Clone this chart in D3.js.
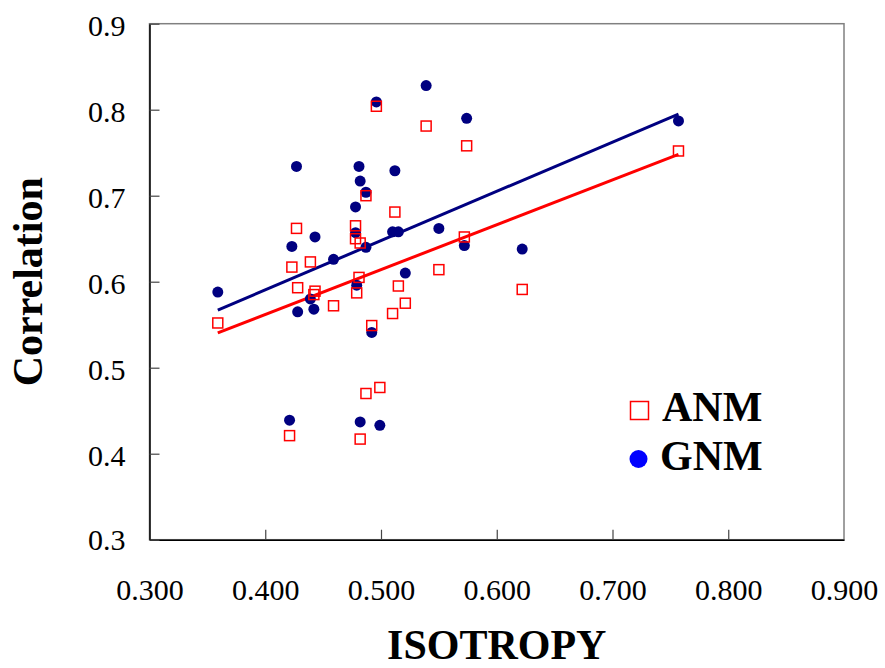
<!DOCTYPE html>
<html>
<head>
<meta charset="utf-8">
<script src="https://cdn.jsdelivr.net/npm/d3@7"></script>
<style>
  body { margin: 0; background: #fff; }
  svg text { font-family: "Liberation Serif", "Times New Roman", serif; }
</style>
</head>
<body>
<div id="chart"></div>
<script>
// Isotropy for each protein, with the ANM and GNM correlations
const isotropy = [0.359, 0.421, 0.423, 0.427, 0.428, 0.439, 0.443, 0.442, 0.459,
    0.481, 0.482, 0.478, 0.478, 0.479, 0.482, 0.487, 0.487, 0.492, 0.496, 0.499,
    0.510, 0.515, 0.512, 0.521, 0.539, 0.550, 0.572, 0.574, 0.622, 0.757];
const gnm = [0.588, 0.439, 0.641, 0.734, 0.565, 0.580, 0.652, 0.568, 0.626,
    0.734, 0.717, 0.687, 0.657, 0.596, 0.437, 0.704, 0.640, 0.541, 0.809, 0.433,
    0.658, 0.658, 0.729, 0.610, 0.828, 0.662, 0.642, 0.790, 0.638, 0.787];
const anm = [0.552, 0.421, 0.617, 0.662, 0.593, 0.623, 0.589, 0.585, 0.572,
    0.605, 0.645, 0.665, 0.650, 0.587, 0.417, 0.700, 0.470, 0.549, 0.804, 0.477,
    0.563, 0.595, 0.681, 0.575, 0.781, 0.614, 0.652, 0.758, 0.591, 0.752];

const xTicks = [0.3, 0.4, 0.5, 0.6, 0.7, 0.8, 0.9];
const yTicks = [0.3, 0.4, 0.5, 0.6, 0.7, 0.8, 0.9];

const width = 885, height = 668;
const margin = {left: 149.5, right: 41, top: 23.7, bottom: 128.3};

const svg = d3.select("#chart").append("svg")
    .attr("width", width)
    .attr("height", height);

const x = d3.scaleLinear().domain([0.3, 0.9]).range([margin.left, width - margin.right]);
const y = d3.scaleLinear().domain([0.3, 0.9]).range([height - margin.bottom, margin.top]);

// plot frame: grey top/right, black axes drawn over it
svg.append("rect")
    .attr("x", x(0.3)).attr("y", y(0.9))
    .attr("width", x(0.9) - x(0.3)).attr("height", y(0.3) - y(0.9))
    .attr("fill", "none").attr("stroke", "#808080").attr("stroke-width", 1.5);

const xAxis = svg.append("g")
    .attr("transform", `translate(0,${y(0.3)})`)
    .call(d3.axisBottom(x).tickValues(xTicks).tickSize(-10).tickSizeOuter(0).tickPadding(0).tickFormat(d3.format(".3f")))
    .attr("font-family", null).attr("font-size", null);
xAxis.select(".domain").attr("stroke", "#000").attr("stroke-width", 1.5);
xAxis.selectAll(".tick line").attr("stroke", "#444").attr("stroke-width", 1.2)
    .filter(d => d === 0.3 || d === 0.9).remove();
xAxis.selectAll(".tick text")
    .attr("y", 60).attr("dy", 0)
    .attr("font-size", 30).attr("fill", "#000");

const yAxis = svg.append("g")
    .attr("transform", `translate(${x(0.3)},0)`)
    .call(d3.axisLeft(y).tickValues(yTicks).tickSize(-10).tickSizeOuter(0).tickPadding(0).tickFormat(d3.format(".1f")))
    .attr("font-family", null).attr("font-size", null);
yAxis.select(".domain").attr("stroke", "#000").attr("stroke-width", 1.5);
yAxis.selectAll(".tick line").attr("stroke", "#444").attr("stroke-width", 1.2);
yAxis.selectAll(".tick text")
    .attr("x", -24).attr("dy", 12)
    .attr("font-size", 30).attr("fill", "#000");
yAxis.select(".tick:first-of-type text").attr("dy", 10);

// least-squares trend line over the data range
function trend(xs, ys) {
    const mx = d3.mean(xs), my = d3.mean(ys);
    const b = d3.sum(xs, (v, i) => (v - mx) * (ys[i] - my)) / d3.sum(xs, v => (v - mx) ** 2);
    const a = my - b * mx;
    return d3.extent(xs).map(v => [v, a + b * v]);
}
const line = d3.line().x(d => x(d[0])).y(d => y(d[1]));

svg.append("path").datum(trend(isotropy, gnm))
    .attr("d", line).attr("stroke", "#000080").attr("stroke-width", 3).attr("fill", "none");
svg.append("path").datum(trend(isotropy, anm))
    .attr("d", line).attr("stroke", "#ff0000").attr("stroke-width", 3).attr("fill", "none");

// GNM points
svg.append("g").selectAll("circle")
    .data(isotropy.map((v, i) => [v, gnm[i]]))
    .join("circle")
    .attr("cx", d => x(d[0])).attr("cy", d => y(d[1]))
    .attr("r", 5.5).attr("fill", "#000080");

// ANM points
const sq = 10;
svg.append("g").selectAll("rect")
    .data(isotropy.map((v, i) => [v, anm[i]]))
    .join("rect")
    .attr("x", d => x(d[0]) - sq / 2).attr("y", d => y(d[1]) - sq / 2)
    .attr("width", sq).attr("height", sq)
    .attr("fill", "none").attr("stroke", "#ff0000").attr("stroke-width", 1.5);

// legend
svg.append("rect")
    .attr("x", 630.5).attr("y", 401.5).attr("width", 18).attr("height", 18)
    .attr("fill", "#fff").attr("stroke", "#ff0000").attr("stroke-width", 1.5);
svg.append("text").attr("x", 662).attr("y", 421)
    .attr("font-size", 42).attr("font-weight", "bold").text("ANM");
svg.append("circle").attr("cx", 638.5).attr("cy", 459).attr("r", 9).attr("fill", "#0000ff");
svg.append("text").attr("x", 660).attr("y", 470)
    .attr("font-size", 42).attr("font-weight", "bold").text("GNM");

// axis titles
svg.append("text")
    .attr("x", (x(0.3) + x(0.9)) / 2).attr("y", 659)
    .attr("text-anchor", "middle").attr("font-size", 42).attr("font-weight", "bold")
    .text("ISOTROPY");
svg.append("text")
    .attr("transform", `translate(42,${y(0.6)}) rotate(-90)`)
    .attr("text-anchor", "middle").attr("font-size", 42).attr("font-weight", "bold")
    .text("Correlation");
</script>
</body>
</html>
